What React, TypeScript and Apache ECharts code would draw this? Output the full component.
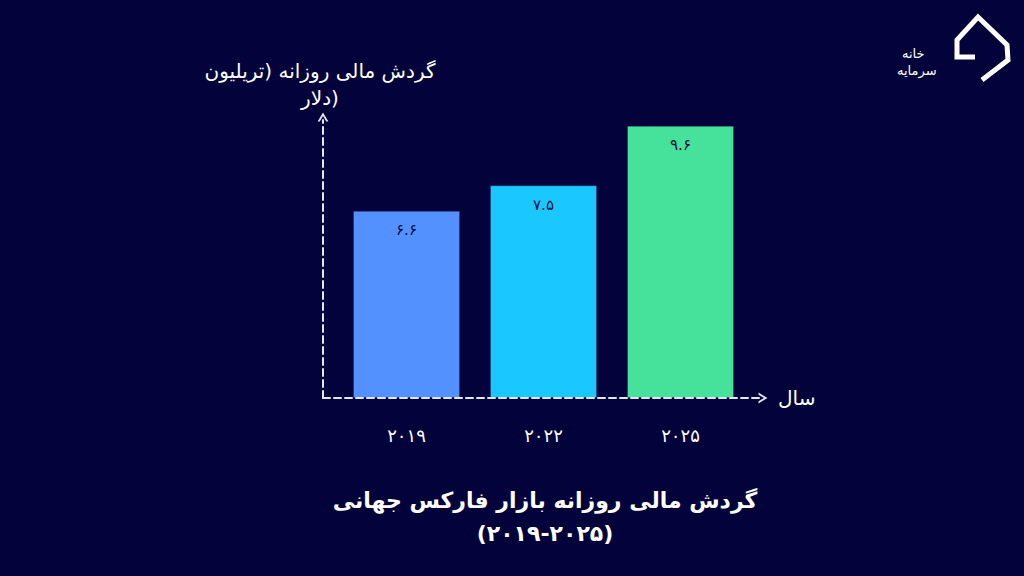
import React, { useEffect, useRef } from "react";
import * as echarts from "echarts";

const years = ["2019", "2022", "2025"];
const turnover = [6.6, 7.5, 9.6];
const barColors = ["#5291FF", "#1AC8FF", "#46E19A"];
const titleText = "گردش مالی روزانه بازار فارکس جهانی\n(۲۰۱۹-۲۰۲۵)";
const yName = "گردش مالی روزانه (تریلیون\nدلار)";
const xName = "سال";

const toFa = (s: string) => s.replace(/[0-9]/g, (d) => "۰۱۲۳۴۵۶۷۸۹"[+d]);

const FONT = "'DejaVu Sans', 'Noto Sans', sans-serif";
const chevron = "path://M0,10 L6,0 L12,10 L9.6,10 L6,4 L2.4,10 Z";

let registered = false;

export default function App() {
  const ref = useRef<HTMLDivElement>(null);
  useEffect(() => {
    if (!ref.current) return;
    if (!registered) {
      echarts.graphic.registerShape(
        "logo",
        echarts.graphic.extendPath(
          "M975,57 L957,57 L957,40 L978,17 L1007,45 L1008,60 L982,80",
          {}
        ) as any
      );
      registered = true;
    }
    const chart = echarts.init(ref.current, null, { renderer: "svg" });
    chart.setOption({
      animation: false,
      backgroundColor: "#03023A",
      title: {
        text: titleText,
        left: 540,
        top: 479,
        textAlign: "center",
        textStyle: {
          color: "#ffffff",
          fontSize: 22,
          fontWeight: "bold",
          fontFamily: FONT,
          lineHeight: 33,
        },
      },
      grid: [
        { left: 323, right: 264, top: 120, bottom: 178 },
        { left: 338, right: 275, top: 120, bottom: 178 },
      ],
      xAxis: [
        {
          gridIndex: 0,
          type: "value",
          min: 0,
          max: 1,
          z: 10,
          axisLine: {
            show: true,
            symbol: ["none", chevron],
            symbolSize: [14, 9],
            symbolOffset: [0, 3],
            lineStyle: { color: "#e6e6ee", width: 2, type: [7, 4] },
          },
          axisTick: { show: false },
          axisLabel: { show: false },
          splitLine: { show: false },
          name: xName,
          nameLocation: "end",
          nameGap: 18,
          nameTextStyle: { color: "#ffffff", fontSize: 20, fontFamily: FONT },
        },
        {
          gridIndex: 1,
          type: "category",
          data: years,
          axisLine: { show: false },
          axisTick: { show: false },
          axisLabel: {
            color: "#ffffff",
            fontSize: 18,
            fontFamily: FONT,
            margin: 28,
            formatter: (v: string) => toFa(v),
          },
        },
      ],
      yAxis: [
        {
          gridIndex: 0,
          type: "value",
          min: 0,
          max: 1,
          z: 10,
          axisLine: {
            show: true,
            symbol: ["none", chevron],
            symbolSize: [14, 9],
            symbolOffset: [0, 3],
            lineStyle: { color: "#e6e6ee", width: 2, type: [7, 4] },
          },
          axisTick: { show: false },
          axisLabel: { show: false },
          splitLine: { show: false },
          name: yName,
          nameLocation: "end",
          nameGap: 9,
          nameTextStyle: {
            color: "#ffffff",
            fontSize: 20,
            fontFamily: FONT,
            lineHeight: 27,
            align: "center",
            padding: [0, 6, 0, 0],
          },
        },
        {
          gridIndex: 1,
          type: "value",
          min: 0,
          max: 9.8,
          show: false,
        },
      ],
      series: [
        {
          type: "bar",
          xAxisIndex: 1,
          yAxisIndex: 1,
          barWidth: 107,
          data: turnover.map((v, i) => ({
            value: v,
            itemStyle: {
              color: barColors[i],
              borderColor: "rgba(20,20,80,0.35)",
              borderWidth: 1,
            },
          })),
          label: {
            show: true,
            position: "insideTop",
            distance: 12,
            color: "#0B0B3B",
            fontSize: 15,
            fontFamily: FONT,
            formatter: (p: any) => toFa(String(p.value)),
          },
        },
      ],
      graphic: [
        {
          type: "logo",
          style: { fill: "none", stroke: "#ffffff", lineWidth: 5, lineJoin: "miter" },
        },
        {
          type: "text",
          left: 902,
          top: 47,
          style: {
            text: "خانه",
            fill: "#ffffff",
            font: "13px 'DejaVu Sans'",
          },
        },
        {
          type: "text",
          left: 897,
          top: 64,
          style: {
            text: "سرمایه",
            fill: "#ffffff",
            font: "13px 'DejaVu Sans'",
          },
        },
      ],
    });
    return () => chart.dispose();
  }, []);
  return (
    <div
      ref={ref}
      style={{ position: "fixed", left: 0, top: 0, width: 1024, height: 576 }}
    />
  );
}
